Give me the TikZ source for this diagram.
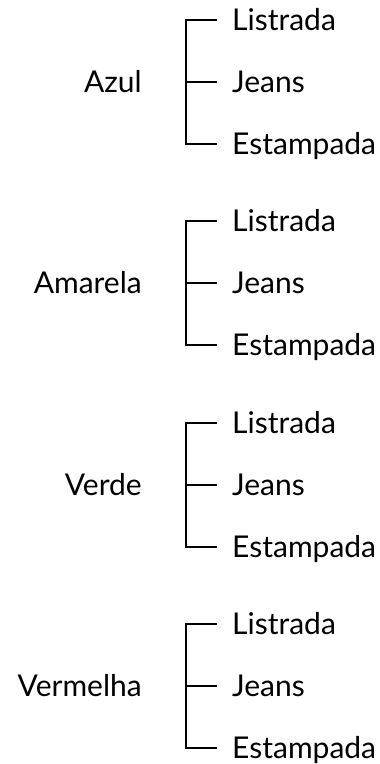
\documentclass[tikz,border=0pt]{standalone}
\usepackage{fontspec}
\setmainfont{Lato}
\begin{document}
\begin{tikzpicture}[x=1pt,y=-1pt,
  br/.style={line width=2.6pt},
  item/.style={anchor=west,inner xsep=15pt,inner ysep=0pt,text height=21pt,text depth=0pt,font=\fontsize{30}{33}\selectfont},
  lab/.style={anchor=east,inner xsep=0pt,inner ysep=0pt,text height=21pt,text depth=0pt,font=\fontsize{30}{33}\selectfont}]
\useasboundingbox (0,0) rectangle (380,764);
\foreach \i/\name/\y in {1/Azul/20,2/Amarela/221,3/Verde/423,4/Vermelha/624}{
  \node[item] (L\i) at (217,\y) {Listrada};
  \node[item] (J\i) at (217,\y+62) {Jeans};
  \node[item] (E\i) at (217,\y+124) {Estampada};
  \node[lab] (C\i) at (142,\y+62) {\name};
  \draw[br] (L\i.west) -- ++(-31,0) |- (E\i.west);
  \draw[br] (J\i.west) -- ++(-31,0);
}
\end{tikzpicture}
\end{document}
